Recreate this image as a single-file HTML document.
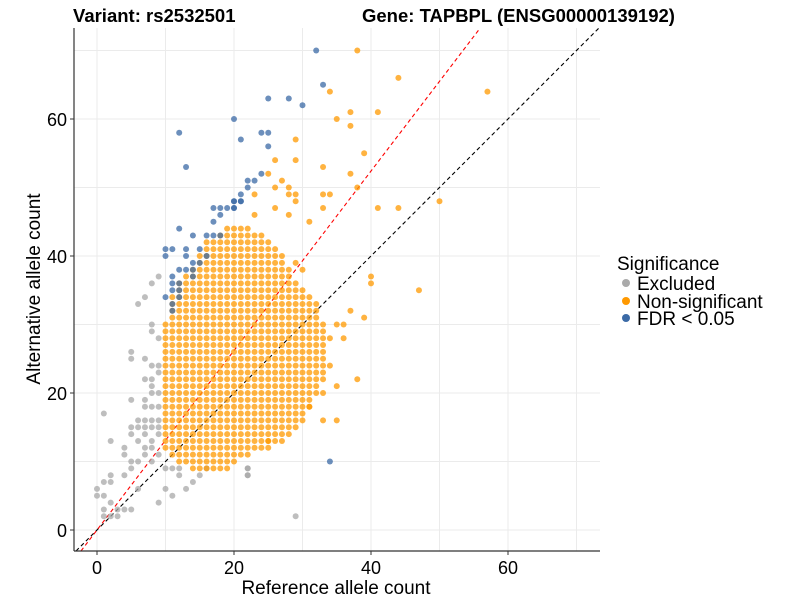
<!DOCTYPE html>
<html><head><meta charset="utf-8"><style>
body{margin:0;background:#fff;}
svg{font-family:"Liberation Sans",sans-serif;}
</style></head><body>
<svg id="chart" width="800" height="600" xmlns="http://www.w3.org/2000/svg">
<text x="73" y="22" font-size="18.5" font-weight="bold">Variant: rs2532501</text>
<text x="362" y="22" font-size="18.5" font-weight="bold">Gene: TAPBPL (ENSG00000139192)</text>
<g id="grid"></g>
<g id="lines"></g>
<g id="pts"></g>
<g id="axes"></g>
<text x="336" y="594" font-size="19" text-anchor="middle">Reference allele count</text>
<text transform="translate(40,289) rotate(-90)" font-size="19" text-anchor="middle">Alternative allele count</text>
<g>
<text x="617" y="270" font-size="19">Significance</text>
<circle cx="626" cy="283" r="4" fill="#aaaaaa"/>
<text x="637" y="290" font-size="19">Excluded</text>
<circle cx="626" cy="301" r="4" fill="#ff9900"/>
<text x="637" y="308" font-size="19">Non-significant</text>
<circle cx="626" cy="318" r="4" fill="#3b6aa6"/>
<text x="637" y="325" font-size="19">FDR &lt; 0.05</text>
</g>
</svg>
<script>
const xTicks=[0,20,40,60];
const yTicks=[0,20,40,60];
const minorTicks=[10,30,50,70];
const orangeColX=[10,11,12,13,14,15,16,17,18,19,20,21,22,23,24,25,26,27,28,29,30,31,32,33];
const orangeColLo=[12,11,10,10,9,9,9,9,9,9,10,11,11,12,12,12,13,13,14,15,16,18,20,22];
const orangeColHi=[30,34,36,37,38,40,42,42,43,44,44,44,44,43,43,42,41,40,38,36,35,34,33,30];
const orangeExtraX=[38,44,57,34,37,41,35,37,29,39,26,29,33,37,25,38,27,28,26,23,28,29,33,34,50,41,44,33,26,29,23,28,31,47,40,40,37,39,35,36,36,38,35,33,35,33,31,25,34,34,30,29];
const orangeExtraY=[70,66,64,64,61,61,60,59,57,55,54,54,53,52,52,50,51,50,50,49,49,49,49,49,48,47,47,47,47,48,46,46,45,35,37,36,32,31,30,30,28,22,21,20,16,16,18,13,24,28,38,39];
const grayX=[9,8,7,6,8,8,9,5,5,7,8,9,9,7,8,8,8,9,5,7,7,8,9,1,6,7,8,9,5,6,7,8,9,5,7,9,2,6,8,4,7,8,4,7,9,5,6,8,5,10,11,12,16,22,2,4,12,15,22,1,2,14,0,6,10,13,1,11,2,9,3,4,5,1,3,22,22,29,0,1,2];
const grayY=[37,36,34,33,30,29,28,26,25,25,24,24,23,22,22,21,20,20,19,19,18,18,18,17,16,16,16,16,15,15,15,15,15,14,14,14,13,13,13,12,12,12,11,11,11,10,10,10,9,9,9,9,9,9,8,8,8,8,8,7,7,7,6,6,6,6,5,5,4,4,3,3,3,2,2,9,8,2,5,3,2];
const blueX=[12,14,16,17,18,10,11,13,15,10,13,16,14,15,12,13,14,14,11,11,12,11,12,10,12,11,11,17,18,19,20,20,21,18,17,32,33,25,28,30,20,21,24,25,25,24,22,23,22,21,20,21,20,12,13,34];
const blueY=[44,43,43,43,43,41,41,41,41,40,40,40,39,39,38,38,38,37,37,36,36,35,35,34,34,33,32,47,47,47,47,48,48,46,45,70,65,63,63,62,60,57,58,58,56,52,51,51,50,49,48,48,47,58,53,10];
const X0=97,Y0=530,S=6.85;
function sx(v){return X0+v*S;}
function sy(v){return Y0-v*S;}
const NS="http://www.w3.org/2000/svg";
function mk(tag,attrs,parent){const e=document.createElementNS(NS,tag);for(const k in attrs)e.setAttribute(k,attrs[k]);parent.appendChild(e);return e;}
const L=74,R=600,T=28,B=551;
const grid=document.getElementById('grid');
[...xTicks,...minorTicks].forEach(v=>{const x=sx(v);if(x>L&&x<R){const g=mk('line',{x1:x,x2:x,y1:T,y2:B,stroke:'#ebebeb','stroke-width':1},grid);

}});
[...yTicks,...minorTicks].forEach(v=>{const y=sy(v);if(y>T&&y<B){const g=mk('line',{x1:L,x2:R,y1:y,y2:y,stroke:'#ebebeb','stroke-width':1},grid);

}});
const pts=document.getElementById('pts');
function dot(x,y,fill,name){const c=mk('circle',{cx:sx(x),cy:sy(y),r:3,fill:fill,'fill-opacity':0.75},pts);

}
grayX.forEach((x,i)=>dot(x,grayY[i],'#a8a8a8','point-excluded'));
orangeColX.forEach((x,i)=>{for(let y=orangeColLo[i];y<=orangeColHi[i];y++)dot(x,y,'#ff9900','point-nonsig');});
orangeExtraX.forEach((x,i)=>dot(x,orangeExtraY[i],'#ff9900','point-nonsig'));
blueX.forEach((x,i)=>dot(x,blueY[i],'#3b6aa6','point-fdr'));
const lines=document.getElementById('lines');
const xMin=(L-X0)/S,xMax=(R-X0)/S,yMin=(Y0-B)/S,yMax=(Y0-T)/S;
function ab(slope,color,name){const a=Math.max(xMin,yMin/slope),b=Math.min(xMax,yMax/slope);
const l=mk('line',{x1:sx(a),y1:sy(a*slope),x2:sx(b),y2:sy(b*slope),stroke:color,'stroke-width':1.1,'stroke-dasharray':'4,3'},lines);

}
ab(1,'#000','identity-line');
ab(1.31,'#ff0000','fit-line');
const ax=document.getElementById('axes');
mk('line',{x1:L,x2:L,y1:T,y2:B,stroke:'#333','stroke-width':1.2},ax);
mk('line',{x1:L,x2:R,y1:B,y2:B,stroke:'#333','stroke-width':1.2},ax);
xTicks.forEach(v=>{mk('line',{x1:sx(v),x2:sx(v),y1:B,y2:B+4,stroke:'#333'},ax);
const t=mk('text',{x:sx(v),y:B+23,'font-size':18,'text-anchor':'middle'},ax);t.textContent=v;

});
yTicks.forEach(v=>{mk('line',{x1:L-4,x2:L,y1:sy(v),y2:sy(v),stroke:'#333'},ax);
const t=mk('text',{x:L-7,y:sy(v)+7,'font-size':18,'text-anchor':'end'},ax);t.textContent=v;

});
</script>
</body></html>
